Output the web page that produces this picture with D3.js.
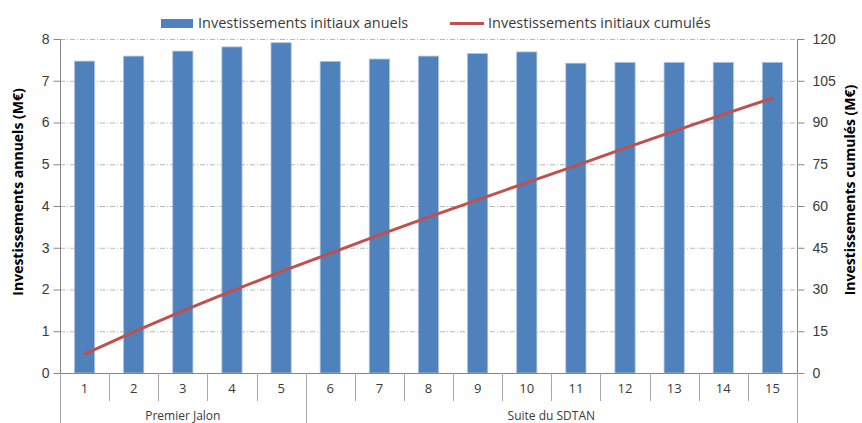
<!DOCTYPE html>
<html>
<head>
<meta charset="utf-8">
<script src="https://cdn.jsdelivr.net/npm/d3@7"></script>
<style>
  html, body { margin: 0; padding: 0; background: #fff; }
  svg { display: block; font-family: "Open Sans", "Liberation Sans", sans-serif; }
</style>
</head>
<body>
<svg id="chart" width="862" height="423"></svg>
<script>
// Years of the programme
const categories = ["1","2","3","4","5","6","7","8","9","10","11","12","13","14","15"];
// Annual initial investment (M€)
const annualValues = [7.47, 7.59, 7.71, 7.81, 7.91, 7.46, 7.52, 7.59, 7.65, 7.69, 7.42, 7.44, 7.44, 7.44, 7.44];
// Cumulated initial investment (M€)
const cumulValues = [6.8, 14.8, 22.3, 29.5, 36.4, 43.0, 49.6, 56.0, 62.2, 68.4, 74.5, 80.8, 86.9, 92.9, 98.8];
// Phase groups on the category axis
const groupNames = ["Premier Jalon", "Suite du SDTAN"];
const groupSizes = [5, 10];
const leftTicks = [0, 1, 2, 3, 4, 5, 6, 7, 8];
const rightTicks = [0, 15, 30, 45, 60, 75, 90, 105, 120];

const svg = d3.select("#chart");
const plot = { left: 60, right: 797, top: 39, bottom: 373 };

const x = d3.scaleBand().domain(categories).range([plot.left, plot.right]).paddingInner(0.59).paddingOuter(0.295);
const xc = d3.scaleBand().domain(categories).range([plot.left, plot.right]);
const yL = d3.scaleLinear().domain([0, 8]).range([plot.bottom, plot.top]);
const yR = d3.scaleLinear().domain([0, 120]).range([plot.bottom, plot.top]);

const axisColor = "#868686";
const textColor = "#3a3a3a";

// Horizontal gridlines
svg.append("g").selectAll("line").data(leftTicks.filter(d => d > 0)).join("line")
  .attr("x1", plot.left).attr("x2", plot.right)
  .attr("y1", d => yL(d) + 0.5).attr("y2", d => yL(d) + 0.5)
  .attr("stroke", "#b8b8b8").attr("stroke-width", 1)
  .attr("stroke-dasharray", "5,2,1,2");

// Bars
svg.append("g").selectAll("rect").data(annualValues).join("rect")
  .attr("x", (d, i) => x(categories[i]))
  .attr("width", x.bandwidth())
  .attr("y", d => yL(d))
  .attr("height", d => yL(0) - yL(d))
  .attr("fill", "#4F81BD")
  .attr("stroke", "#a9c0de").attr("stroke-width", 0.8);

// Left axis
const gL = svg.append("g").attr("transform", `translate(${plot.left + 0.5},0)`)
  .call(d3.axisLeft(yL).tickValues(leftTicks).tickSize(7).tickPadding(4).tickFormat(d3.format("d")));
gL.select(".domain").attr("stroke", axisColor).attr("d", `M0,${plot.top}V${plot.bottom}`);
gL.selectAll(".tick line").attr("stroke", axisColor);
gL.selectAll(".tick text").attr("fill", textColor).attr("font-size", 14).style("font-family", "inherit");

// Right axis
const gR = svg.append("g").attr("transform", `translate(${plot.right + 0.5},0)`)
  .call(d3.axisRight(yR).tickValues(rightTicks).tickSize(7).tickPadding(8).tickFormat(d3.format("d")));
gR.select(".domain").attr("stroke", axisColor).attr("d", `M0,${plot.top}V${plot.bottom}`);
gR.selectAll(".tick line").attr("stroke", axisColor);
gR.selectAll(".tick text").attr("fill", textColor).attr("font-size", 14).style("font-family", "inherit");

// Category axis
const gX = svg.append("g");
gX.append("line").attr("x1", plot.left).attr("x2", plot.right)
  .attr("y1", plot.bottom + 0.5).attr("y2", plot.bottom + 0.5).attr("stroke", axisColor);
// Separators between years
gX.selectAll("line.sep").data(categories.slice(1)).join("line").attr("class", "sep")
  .attr("x1", d => Math.round(xc(d)) + 0.5).attr("x2", d => Math.round(xc(d)) + 0.5)
  .attr("y1", plot.bottom).attr("y2", 401).attr("stroke", "#a6a6a6");
// Year labels
gX.selectAll("text.cat").data(categories).join("text").attr("class", "cat")
  .attr("x", d => xc(d) + xc.bandwidth() / 2).attr("y", 393)
  .attr("text-anchor", "middle").attr("fill", textColor).attr("font-size", 13).text(d => d);
// Phase groups
let start = 0;
const groupEdges = [0];
groupSizes.forEach(s => { start += s; groupEdges.push(start); });
gX.selectAll("line.grp").data(groupEdges).join("line").attr("class", "grp")
  .attr("x1", i => Math.round(i === categories.length ? plot.right : xc(categories[i])) + 0.5)
  .attr("x2", i => Math.round(i === categories.length ? plot.right : xc(categories[i])) + 0.5)
  .attr("y1", plot.bottom).attr("y2", 423).attr("stroke", "#a6a6a6");
gX.selectAll("text.grp").data(groupNames).join("text").attr("class", "grp")
  .attr("x", (d, i) => {
    const a = xc(categories[groupEdges[i]]);
    const b = groupEdges[i + 1] === categories.length ? plot.right : xc(categories[groupEdges[i + 1]]);
    return (a + b) / 2;
  })
  .attr("y", 420).attr("text-anchor", "middle").attr("fill", textColor).attr("font-size", 12).text(d => d);

// Cumulated line
const line = d3.line()
  .x((d, i) => xc(categories[i]) + xc.bandwidth() / 2)
  .y(d => yR(d));
svg.append("path").datum(cumulValues)
  .attr("d", line).attr("fill", "none")
  .attr("stroke", "#C0504D").attr("stroke-width", 3).attr("stroke-linecap", "round");

// Axis titles
svg.append("text").attr("transform", `translate(23,192) rotate(-90)`)
  .attr("text-anchor", "middle").attr("font-weight", "bold").attr("font-size", 14)
  .attr("fill", "#000").text("Investissements annuels (M€)");
svg.append("text").attr("transform", `translate(855,190) rotate(-90)`)
  .attr("text-anchor", "middle").attr("font-weight", "bold").attr("font-size", 14)
  .attr("fill", "#000").text("Investissements cumulés (M€)");

// Legend
const lg = svg.append("g");
lg.append("rect").attr("x", 161).attr("y", 19).attr("width", 32).attr("height", 9).attr("fill", "#4F81BD");
lg.append("text").attr("x", 198).attr("y", 28).attr("font-size", 14.5).attr("fill", textColor)
  .text("Investissements initiaux anuels");
lg.append("line").attr("x1", 450).attr("x2", 484).attr("y1", 23.5).attr("y2", 23.5)
  .attr("stroke", "#C0504D").attr("stroke-width", 3);
lg.append("text").attr("x", 488).attr("y", 28).attr("font-size", 14.5).attr("fill", textColor)
  .text("Investissements initiaux cumulés");
</script>
</body>
</html>
